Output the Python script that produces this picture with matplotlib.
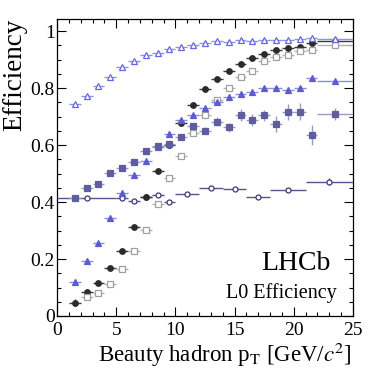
import numpy as np
import matplotlib
matplotlib.use("Agg")
import matplotlib.pyplot as plt
from matplotlib.ticker import MultipleLocator, FuncFormatter

plt.rcParams['font.family'] = ['Liberation Serif', 'DejaVu Serif']
plt.rcParams['mathtext.fontset'] = 'stix'

# ---- data ----
# 1 GeV bins from 1 to 22, then one wide bin 22-25
bin_lo = [1, 2, 3, 4, 5, 6, 7, 8, 9, 10, 11, 12, 13, 14, 15, 16, 17, 18, 19, 20, 21, 22]
bin_hi = [2, 3, 4, 5, 6, 7, 8, 9, 10, 11, 12, 13, 14, 15, 16, 17, 18, 19, 20, 21, 22, 25]

eff_open_tri = [0.743, 0.771, 0.809, 0.839, 0.873, 0.895, 0.915, 0.925, 0.937, 0.946, 0.951,
                0.957, 0.964, 0.961, 0.970, 0.964, 0.968, 0.971, 0.971, 0.973, 0.975, 0.973]
err_open_tri = [0.004, 0.004, 0.003, 0.003, 0.003, 0.003, 0.003, 0.003, 0.003, 0.003, 0.003,
                0.003, 0.003, 0.003, 0.003, 0.003, 0.003, 0.003, 0.003, 0.003, 0.003, 0.003]

eff_black = [0.046, 0.084, 0.117, 0.167, 0.229, 0.314, 0.418, 0.509, 0.600, 0.678, 0.740,
             0.797, 0.833, 0.861, 0.886, 0.906, 0.919, 0.933, 0.940, 0.945, 0.959, 0.964]
err_black = [0.012, 0.006, 0.006, 0.006, 0.006, 0.006, 0.006, 0.006, 0.006, 0.006, 0.006,
             0.006, 0.006, 0.006, 0.006, 0.006, 0.006, 0.006, 0.006, 0.006, 0.006, 0.006]

eff_open_sq = [np.nan, 0.067, 0.082, 0.113, 0.164, 0.227, 0.302, 0.394, 0.483, 0.563, 0.642,
               0.705, 0.760, 0.799, 0.838, 0.862, 0.894, 0.908, 0.916, 0.932, 0.935, 0.950]
err_open_sq = [0.005, 0.005, 0.005, 0.005, 0.005, 0.005, 0.005, 0.005, 0.005, 0.005, 0.005,
               0.005, 0.005, 0.005, 0.005, 0.005, 0.005, 0.005, 0.005, 0.005, 0.005, 0.005]

eff_fill_tri = [0.121, 0.194, 0.257, 0.345, 0.432, 0.494, 0.545, 0.595, 0.640, 0.690, 0.705,
                0.729, 0.752, 0.770, 0.781, 0.788, 0.799, 0.801, 0.795, 0.801, 0.837, 0.826]
err_fill_tri = [0.010, 0.010, 0.008, 0.008, 0.012, 0.008, 0.008, 0.008, 0.008, 0.008, 0.008,
                0.008, 0.008, 0.008, 0.008, 0.008, 0.008, 0.008, 0.008, 0.008, 0.010, 0.006]

eff_fill_sq = [0.416, 0.448, 0.464, 0.502, 0.520, 0.542, 0.579, 0.598, 0.603, 0.629, 0.667,
               0.650, 0.683, 0.662, 0.706, 0.688, 0.705, 0.673, 0.715, 0.718, 0.637, 0.709]
err_fill_sq = [0.006, 0.006, 0.006, 0.006, 0.006, 0.006, 0.006, 0.007, 0.008, 0.009, 0.010,
               0.012, 0.016, 0.017, 0.020, 0.020, 0.020, 0.028, 0.028, 0.030, 0.035, 0.021]

circ_lo = [0, 5, 6, 7, 8, 9, 10, 12, 14, 16, 18, 21]
circ_hi = [5, 6, 7, 8, 9, 10, 12, 14, 16, 18, 21, 25]
eff_open_circ = [0.415, 0.416, 0.405, 0.419, 0.424, 0.402, 0.430, 0.451, 0.445, 0.418, 0.443, 0.471]
err_open_circ = [0.004, 0.005, 0.005, 0.005, 0.005, 0.005, 0.006, 0.006, 0.006, 0.008, 0.008, 0.012]

# ---- figure ----
fig = plt.figure(figsize=(3.84, 3.72), dpi=100)
ax = fig.add_axes([57/384, 1-316/372, 296/384, 297/372])

lo = np.array(bin_lo, float); hi = np.array(bin_hi, float)
xc = (lo + hi) / 2; xe = (hi - lo) / 2
clo = np.array(circ_lo, float); chi = np.array(circ_hi, float)
cxc = (clo + chi) / 2; cxe = (chi - clo) / 2

def draw(x, y, xerr, yerr, marker, ms, mfc, mec, ecol, z):
    ax.errorbar(x, y, xerr=xerr, yerr=yerr, fmt=marker, ms=ms, mfc=mfc, mec=mec,
                mew=0.9, ecolor=ecol, elinewidth=1.0, capsize=0, zorder=z)

draw(cxc, eff_open_circ, cxe, err_open_circ, 'o', 3.6, 'white', '#3a3a78', '#55558a', 3)
draw(xc, eff_black, xe, err_black, 'o', 4.0, '#2b2b2b', '#2b2b2b', '#3a3a3a', 4)
draw(xc, eff_open_sq, xe, err_open_sq, 's', 4.5, 'white', '#a0a0a0', '#b5b5b5', 4)
draw(xc, eff_fill_tri, xe, err_fill_tri, '^', 4.5, '#5c5cd0', '#5c5cd0', '#8a8ae0', 5)
draw(xc, eff_fill_sq, xe, err_fill_sq, 's', 4.5, '#5e5e9e', '#5e5e9e', '#9a9ac2', 6)
draw(xc, eff_open_tri, xe, err_open_tri, '^', 4.8, 'white', '#6666e0', '#8f8fec', 5)

ax.set_xlim(0, 25)
ax.set_ylim(0, 1.043)
ax.xaxis.set_major_locator(MultipleLocator(5))
ax.xaxis.set_minor_locator(MultipleLocator(1))
ax.yaxis.set_major_locator(MultipleLocator(0.2))
ax.yaxis.set_minor_locator(MultipleLocator(0.05))
ax.yaxis.set_major_formatter(FuncFormatter(lambda v, p: ('%g' % round(v, 2))))
ax.tick_params(which='both', direction='in', top=True, right=True, width=0.8, labelsize=14)
ax.tick_params(which='major', length=6.5)
ax.tick_params(which='minor', length=3.2)
ax.tick_params(axis='y', pad=1.5)
ax.tick_params(axis='x', pad=4)
for s in ax.spines.values():
    s.set_linewidth(0.9)

ax.text(0.807, 0.155, 'LHCb', transform=ax.transAxes, ha='center', va='baseline', fontsize=20)
ax.text(0.757, 0.062, 'L0 Efficiency', transform=ax.transAxes, ha='center', va='baseline', fontsize=14.5)

fig.text(352/384, 10.3/372, r'Beauty hadron p$_{\mathrm{T}}$ [GeV/$c^{2}$]', ha='right', va='baseline', fontsize=16.5)
fig.text(15/384, 1-19/372, 'Efficiency', rotation=90, ha='center', va='top', fontsize=19.5)

fig.savefig('out.png', dpi=100)
